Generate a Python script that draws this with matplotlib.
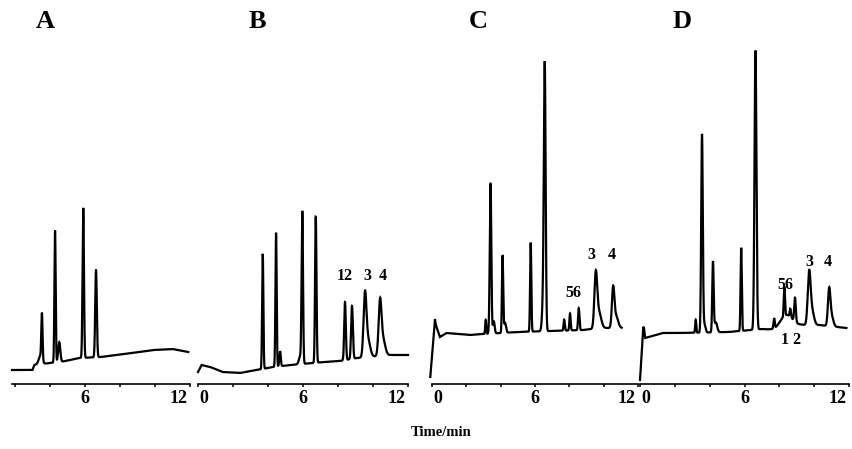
import numpy as np
import matplotlib
matplotlib.use("Agg")
import matplotlib.pyplot as plt
import matplotlib.transforms as mtransforms

plt.rcParams['font.family'] = ['Liberation Serif', 'DejaVu Serif']
plt.rcParams['font.weight'] = 'bold'

W, H = 852, 449
AXIS_Y = 384  # pixel row of the time axis

# ---------------- data (time in min, signal in arbitrary units) ----------------
panel_names = ["A", "B", "C", "D"]

# baseline knots: (time, level)
baseA_t = [1.83, 3.0, 3.1, 4.0, 4.6, 5.7, 6.9, 8.7, 9.9, 11.0, 11.9]
baseA_v = [14, 14, 19, 21, 22, 26, 27, 31, 34, 35, 32]
baseB_t = [0.0, 0.2, 0.7, 1.4, 2.4, 3.35, 4.3, 5.3, 7.2, 8.1, 9.1, 11.0, 12.0]
baseB_v = [12, 19, 17, 12, 11, 14, 17, 19, 22, 23, 26, 29, 29]
baseC_t = [-0.1, 0.17, 0.46, 0.84, 2.2, 3.0, 5.0, 6.9, 8.8, 9.8, 11.05]
baseC_v = [7, 62, 47, 51, 49, 50, 52, 53, 54, 56, 56]
baseD_t = [0.0, 0.19, 0.3, 1.3, 2.3, 5.1, 7.0, 7.8, 9.3, 10.3, 11.85]
baseD_v = [4, 57, 46, 51, 51, 52, 55, 54, 59, 59, 56]

# peaks: retention time, height, width (sigma)
peaksA_t = [3.45, 3.54, 4.29, 4.53, 5.90, 6.63]
peaksA_h = [8, 46, 132, 20, 150, 87]
peaksA_s = [0.10, 0.035, 0.035, 0.06, 0.04, 0.045]

peaksB_t = [3.70, 4.46, 4.69, 5.85, 5.96, 6.73, 8.40, 8.80, 9.54, 9.70, 10.40, 10.56]
peaksB_h = [115, 134, 15, 8, 150, 146, 58, 53, 58, 18, 50, 17]
peaksB_s = [0.035, 0.035, 0.04, 0.08, 0.04, 0.04, 0.045, 0.05, 0.08, 0.13, 0.08, 0.13]

peaksC_t = [0.17, 3.13, 3.41, 3.60, 4.11, 4.25, 5.75, 6.50, 6.57, 7.70, 8.04, 8.55, 9.54, 9.72, 10.55, 10.72]
peaksC_h = [3, 14, 150, 12, 77, 10, 89, 40, 245, 11, 17, 22, 52, 16, 38, 12]
peaksC_s = [0.02, 0.03, 0.045, 0.05, 0.035, 0.06, 0.035, 0.07, 0.05, 0.035, 0.035, 0.04, 0.08, 0.13, 0.07, 0.12]

peaksD_t = [0.23, 3.20, 3.56, 3.70, 4.19, 4.35, 5.81, 6.63, 7.70, 8.40, 8.29, 8.63, 8.90, 9.71, 9.86, 10.86, 11.00]
peaksD_h = [3, 13, 198, 8, 70, 10, 83, 279, 10, 13, 29, 8, 24, 48, 15, 35, 10]
peaksD_s = [0.02, 0.03, 0.045, 0.06, 0.04, 0.08, 0.035, 0.055, 0.035, 0.35, 0.035, 0.035, 0.045, 0.08, 0.12, 0.07, 0.1]

# trace ranges and axis ranges (min)
trace_ranges = [(1.83, 11.9), (0.0, 12.0), (-0.1, 11.05), (0.0, 11.85)]
xlims = [(1.83, 12.0), (0.0, 12.0), (0.0, 12.0), (0.0, 12.0)]
axis_px = [(12, 190), (198, 408), (432, 638), (640, 849)]

# tick labels
tick_vals = [[6, 12], [0, 6, 12], [0, 6, 12], [0, 6, 12]]
tick_text = [["6", "12"], ["0", "6", "12"], ["0", "6", "12"], ["0", "6", "12"]]
minor_vals = [[2, 4, 8, 10], [2, 4, 8, 10], [2, 4, 8, 10], [2, 4, 8, 10]]

# peak annotations: text, time, level
annB = [("12", 8.40, 108), ("3", 9.66, 108), ("4", 10.57, 108)]
annC = [("56", 8.21, 91), ("3", 9.26, 129), ("4", 10.50, 129)]
annD = [("56", 8.33, 99), ("3", 9.71, 122), ("4", 10.80, 122), ("1 2", 8.69, 44)]

bases = [(baseA_t, baseA_v), (baseB_t, baseB_v), (baseC_t, baseC_v), (baseD_t, baseD_v)]
peaks = [(peaksA_t, peaksA_h, peaksA_s), (peaksB_t, peaksB_h, peaksB_s),
         (peaksC_t, peaksC_h, peaksC_s), (peaksD_t, peaksD_h, peaksD_s)]
anns = [[], annB, annC, annD]
letter_px = [(45, 22), (257, 22), (478, 22), (682, 22)]

# ---------------- drawing ----------------
fig = plt.figure(figsize=(W / 100, H / 100), dpi=100)

for i in range(4):
    x0, x1 = xlims[i]
    lpx, rpx = axis_px[i]
    ax = fig.add_axes([lpx / W, 1 - AXIS_Y / H, (rpx - lpx) / W, AXIS_Y / H])
    ax.set_xlim(x0, x1)
    ax.set_ylim(0, AXIS_Y)

    t0, t1 = trace_ranges[i]
    t = np.linspace(t0, t1, 6000)
    bt, bv = bases[i]
    y = np.interp(t, bt, bv)
    pt, ph, ps = peaks[i]
    for c, h, s in zip(pt, ph, ps):
        y = y + h * np.exp(-0.5 * ((t - c) / s) ** 2)
    ax.plot(t, y, color="black", lw=1.6, clip_on=False, solid_joinstyle="miter")

    for sp in ["top", "left", "right"]:
        ax.spines[sp].set_visible(False)
    ax.spines["bottom"].set_linewidth(1.2)
    ax.set_yticks([])
    ax.set_xticks(tick_vals[i])
    ax.set_xticklabels(tick_text[i], fontsize=13, fontweight="bold")
    ax.set_xticks(minor_vals[i], minor=True)
    ax.tick_params(axis="x", which="major", length=2.5, width=1.1, pad=1.5, direction="out")
    ax.tick_params(axis="x", which="minor", length=2.0, width=1.1, direction="out")
    for lab, v in zip(ax.get_xticklabels(), tick_vals[i]):
        if v == 0:
            lab.set_ha("left")
            lab.set_transform(lab.get_transform() +
                              mtransforms.ScaledTranslation(1.5 / 100, 0, fig.dpi_scale_trans))
        elif v == 12:
            lab.set_ha("right")
            lab.set_transform(lab.get_transform() +
                              mtransforms.ScaledTranslation(-2.5 / 100, 0, fig.dpi_scale_trans))

    for txt, tx, ty in anns[i]:
        ax.text(tx, ty, txt, fontsize=11.5, fontweight="bold", ha="center", va="center")

    lx, ly = letter_px[i]
    fig.text(lx / W, 1 - ly / H, panel_names[i], fontsize=19, fontweight="bold",
             ha="center", va="center")

fig.text(441 / W, 1 - 433 / H, "Time/min", fontsize=10.5, fontweight="bold",
         ha="center", va="center")

fig.savefig("out.png", dpi=100)
